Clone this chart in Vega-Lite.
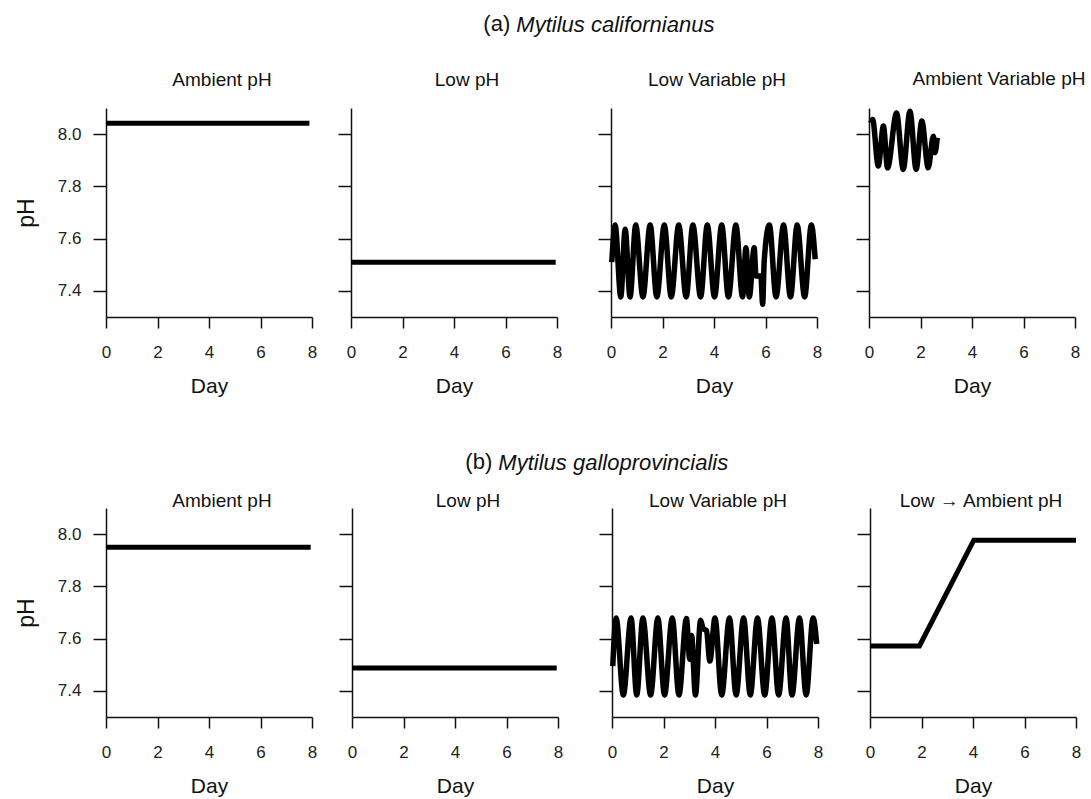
{
  "$schema": "https://vega.github.io/schema/vega-lite/v6.json",
  "padding": {"left": 15, "top": 13, "right": 5, "bottom": 5},
  "background": "white",
  "datasets": {
    "a1": [{"day": 0, "pH": 8.042}, {"day": 7.9, "pH": 8.042}],
    "a2": [{"day": 0, "pH": 7.51}, {"day": 7.95, "pH": 7.51}],
    "a3": [
      {"day": 0.03, "pH": 7.51}, {"day": 0.16, "pH": 7.652}, {"day": 0.38, "pH": 7.377}, {"day": 0.55, "pH": 7.636},
      {"day": 0.74, "pH": 7.377}, {"day": 0.96, "pH": 7.652}, {"day": 1.24, "pH": 7.377}, {"day": 1.52, "pH": 7.652},
      {"day": 1.78, "pH": 7.377}, {"day": 2.07, "pH": 7.652}, {"day": 2.34, "pH": 7.377}, {"day": 2.63, "pH": 7.652},
      {"day": 2.92, "pH": 7.377}, {"day": 3.18, "pH": 7.652}, {"day": 3.48, "pH": 7.377}, {"day": 3.74, "pH": 7.652},
      {"day": 4.02, "pH": 7.377}, {"day": 4.30, "pH": 7.652}, {"day": 4.56, "pH": 7.377}, {"day": 4.85, "pH": 7.652},
      {"day": 5.11, "pH": 7.377}, {"day": 5.24, "pH": 7.565}, {"day": 5.37, "pH": 7.377}, {"day": 5.56, "pH": 7.565},
      {"day": 5.63, "pH": 7.457}, {"day": 5.82, "pH": 7.457}, {"day": 5.89, "pH": 7.349}, {"day": 5.95, "pH": 7.515},
      {"day": 6.15, "pH": 7.652}, {"day": 6.41, "pH": 7.377}, {"day": 6.70, "pH": 7.652}, {"day": 6.97, "pH": 7.377},
      {"day": 7.23, "pH": 7.652}, {"day": 7.52, "pH": 7.377}, {"day": 7.78, "pH": 7.652}, {"day": 7.93, "pH": 7.521}
    ],
    "a4": [
      {"day": 0.065, "pH": 8.043}, {"day": 0.14, "pH": 8.056}, {"day": 0.36, "pH": 7.878}, {"day": 0.56, "pH": 8.031},
      {"day": 0.72, "pH": 7.871}, {"day": 1.07, "pH": 8.081}, {"day": 1.33, "pH": 7.865}, {"day": 1.59, "pH": 8.088},
      {"day": 1.83, "pH": 7.865}, {"day": 2.05, "pH": 8.05}, {"day": 2.30, "pH": 7.871}, {"day": 2.50, "pH": 7.992},
      {"day": 2.56, "pH": 7.929}, {"day": 2.65, "pH": 7.986}
    ],
    "b1": [{"day": 0, "pH": 7.95}, {"day": 7.95, "pH": 7.95}],
    "b2": [{"day": 0, "pH": 7.488}, {"day": 7.95, "pH": 7.488}],
    "b3": [
      {"day": 0.03, "pH": 7.495}, {"day": 0.16, "pH": 7.679}, {"day": 0.44, "pH": 7.384}, {"day": 0.74, "pH": 7.679},
      {"day": 0.96, "pH": 7.384}, {"day": 1.20, "pH": 7.679}, {"day": 1.50, "pH": 7.384}, {"day": 1.78, "pH": 7.679},
      {"day": 2.04, "pH": 7.384}, {"day": 2.34, "pH": 7.679}, {"day": 2.60, "pH": 7.384}, {"day": 2.89, "pH": 7.677},
      {"day": 3.02, "pH": 7.521}, {"day": 3.09, "pH": 7.612}, {"day": 3.24, "pH": 7.384}, {"day": 3.44, "pH": 7.670},
      {"day": 3.54, "pH": 7.638}, {"day": 3.67, "pH": 7.631}, {"day": 3.80, "pH": 7.514}, {"day": 4.00, "pH": 7.679},
      {"day": 4.26, "pH": 7.384}, {"day": 4.56, "pH": 7.679}, {"day": 4.82, "pH": 7.384}, {"day": 5.11, "pH": 7.679},
      {"day": 5.37, "pH": 7.384}, {"day": 5.65, "pH": 7.679}, {"day": 5.93, "pH": 7.384}, {"day": 6.21, "pH": 7.679},
      {"day": 6.47, "pH": 7.384}, {"day": 6.76, "pH": 7.679}, {"day": 6.99, "pH": 7.384}, {"day": 7.28, "pH": 7.679},
      {"day": 7.54, "pH": 7.384}, {"day": 7.81, "pH": 7.679}, {"day": 7.95, "pH": 7.579}
    ],
    "b4": [{"day": 0, "pH": 7.572}, {"day": 1.92, "pH": 7.572}, {"day": 4.03, "pH": 7.977}, {"day": 8, "pH": 7.977}]
  },
  "spacing": 55,
  "vconcat": [
    {
      "title": {"text": "(a)", "fontSize": 22, "anchor": "start", "frame": "bounds", "dx": 468, "offset": -22},
      "vconcat": [
        {
          "title": {"text": "Mytilus californianus", "fontSize": 22, "fontStyle": "italic", "anchor": "start", "frame": "bounds", "dx": 501, "offset": 33},
          "spacing": 31,
          "hconcat": [
            {
              "spacing": 17,
              "hconcat": [
                {
                  "width": 206, "height": 209,
                  "title": {"text": "Ambient pH", "dx": 13, "offset": 18},
                  "data": {"name": "a1"},
                  "mark": {"type": "line", "color": "black", "strokeWidth": 5},
                  "encoding": {
                    "x": {"field": "day", "type": "quantitative", "scale": {"domain": [0, 8]}, "axis": {"values": [0, 2, 4, 6, 8], "title": "Day"}},
                    "y": {"field": "pH", "type": "quantitative", "scale": {"domain": [7.3, 8.1], "zero": false}, "axis": {"values": [7.4, 7.6, 7.8, 8.0], "format": ".1f", "title": "pH"}}
                  }
                },
                {
                  "width": 206, "height": 209,
                  "title": {"text": "Low pH", "dx": 13, "offset": 18},
                  "data": {"name": "a2"},
                  "mark": {"type": "line", "color": "black", "strokeWidth": 5},
                  "encoding": {
                    "x": {"field": "day", "type": "quantitative", "scale": {"domain": [0, 8]}, "axis": {"values": [0, 2, 4, 6, 8], "title": "Day"}},
                    "y": {"field": "pH", "type": "quantitative", "scale": {"domain": [7.3, 8.1], "zero": false}, "axis": {"values": [7.4, 7.6, 7.8, 8.0], "labels": false, "title": null}}
                  }
                }
              ]
            },
            {
              "spacing": 28,
              "hconcat": [
                {
                  "width": 206, "height": 209,
                  "title": {"text": "Low Variable pH", "dx": 3, "offset": 18},
                  "data": {"name": "a3"},
                  "mark": {"type": "line", "color": "black", "strokeWidth": 5.5, "interpolate": "monotone"},
                  "encoding": {
                    "x": {"field": "day", "type": "quantitative", "scale": {"domain": [0, 8]}, "axis": {"values": [0, 2, 4, 6, 8], "title": "Day"}},
                    "y": {"field": "pH", "type": "quantitative", "scale": {"domain": [7.3, 8.1], "zero": false}, "axis": {"values": [7.4, 7.6, 7.8, 8.0], "labels": false, "title": null}}
                  }
                },
                {
                  "width": 206, "height": 209,
                  "title": {"text": "Ambient Variable pH", "dx": 27, "offset": 11},
                  "data": {"name": "a4"},
                  "mark": {"type": "line", "color": "black", "strokeWidth": 5.5, "interpolate": "monotone"},
                  "encoding": {
                    "x": {"field": "day", "type": "quantitative", "scale": {"domain": [0, 8]}, "axis": {"values": [0, 2, 4, 6, 8], "title": "Day"}},
                    "y": {"field": "pH", "type": "quantitative", "scale": {"domain": [7.3, 8.1], "zero": false}, "axis": {"values": [7.4, 7.6, 7.8, 8.0], "labels": false, "title": null}}
                  }
                }
              ]
            }
          ]
        }
      ]
    },
    {
      "title": {"text": "(b)", "fontSize": 22, "anchor": "start", "frame": "bounds", "dx": 450, "offset": -22},
      "vconcat": [
        {
          "title": {"text": "Mytilus galloprovincialis", "fontSize": 22, "fontStyle": "italic", "anchor": "start", "frame": "bounds", "dx": 483, "offset": 17},
          "spacing": 31,
          "hconcat": [
            {
              "spacing": 17,
              "hconcat": [
                {
                  "width": 206, "height": 209,
                  "title": {"text": "Ambient pH", "dx": 13, "offset": -3},
                  "data": {"name": "b1"},
                  "mark": {"type": "line", "color": "black", "strokeWidth": 5},
                  "encoding": {
                    "x": {"field": "day", "type": "quantitative", "scale": {"domain": [0, 8]}, "axis": {"values": [0, 2, 4, 6, 8], "title": "Day"}},
                    "y": {"field": "pH", "type": "quantitative", "scale": {"domain": [7.3, 8.1], "zero": false}, "axis": {"values": [7.4, 7.6, 7.8, 8.0], "format": ".1f", "title": "pH"}}
                  }
                },
                {
                  "width": 206, "height": 209,
                  "title": {"text": "Low pH", "dx": 13, "offset": -3},
                  "data": {"name": "b2"},
                  "mark": {"type": "line", "color": "black", "strokeWidth": 5},
                  "encoding": {
                    "x": {"field": "day", "type": "quantitative", "scale": {"domain": [0, 8]}, "axis": {"values": [0, 2, 4, 6, 8], "title": "Day"}},
                    "y": {"field": "pH", "type": "quantitative", "scale": {"domain": [7.3, 8.1], "zero": false}, "axis": {"values": [7.4, 7.6, 7.8, 8.0], "labels": false, "title": null}}
                  }
                }
              ]
            },
            {
              "spacing": 28,
              "hconcat": [
                {
                  "width": 206, "height": 209,
                  "title": {"text": "Low Variable pH", "dx": 3, "offset": -3},
                  "data": {"name": "b3"},
                  "mark": {"type": "line", "color": "black", "strokeWidth": 5.5, "interpolate": "monotone"},
                  "encoding": {
                    "x": {"field": "day", "type": "quantitative", "scale": {"domain": [0, 8]}, "axis": {"values": [0, 2, 4, 6, 8], "title": "Day"}},
                    "y": {"field": "pH", "type": "quantitative", "scale": {"domain": [7.3, 8.1], "zero": false}, "axis": {"values": [7.4, 7.6, 7.8, 8.0], "labels": false, "title": null}}
                  }
                },
                {
                  "width": 206, "height": 209,
                  "title": {"text": "Low \u2192 Ambient pH", "dx": 8, "offset": -3},
                  "data": {"name": "b4"},
                  "mark": {"type": "line", "color": "black", "strokeWidth": 5},
                  "encoding": {
                    "x": {"field": "day", "type": "quantitative", "scale": {"domain": [0, 8]}, "axis": {"values": [0, 2, 4, 6, 8], "title": "Day"}},
                    "y": {"field": "pH", "type": "quantitative", "scale": {"domain": [7.3, 8.1], "zero": false}, "axis": {"values": [7.4, 7.6, 7.8, 8.0], "labels": false, "title": null}}
                  }
                }
              ]
            }
          ]
        }
      ]
    }
  ],
  "config": {
    "font": "Liberation Sans",
    "view": {"stroke": null},
    "axis": {
      "grid": false, "domainColor": "#111", "domainWidth": 1.5, "tickColor": "#111", "tickWidth": 1.5,
      "labelFont": "Liberation Sans", "labelFontSize": 17, "labelColor": "#222",
      "titleFont": "Liberation Sans", "titleFontSize": 21, "titleFontWeight": "normal", "titleColor": "#111",
      "labelFlush": false, "labelOverlap": false
    },
    "axisX": {"tickSize": 11, "labelPadding": 16, "titlePadding": 15},
    "axisY": {"tickSize": 13, "labelPadding": 12, "titlePadding": 19, "titleFontSize": 23},
    "title": {"font": "Liberation Sans", "fontSize": 19, "fontWeight": "normal", "color": "#111"}
  }
}
